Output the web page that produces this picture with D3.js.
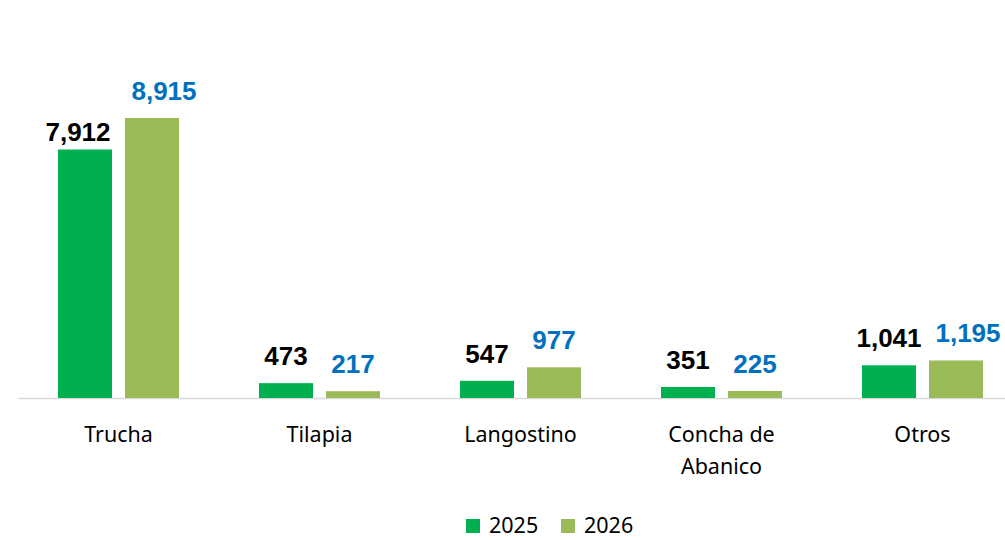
<!DOCTYPE html>
<html>
<head>
<meta charset="utf-8">
<script src="https://cdn.jsdelivr.net/npm/d3@7"></script>
<style>
  body { margin: 0; background: #fff; }
</style>
</head>
<body>
<script>
var categories = ["Trucha", "Tilapia", "Langostino", "Concha de Abanico", "Otros"];
var years = ["2025", "2026"];
var values2025 = [7912, 473, 547, 351, 1041];
var values2026 = [8915, 217, 977, 225, 1195];

var width = 1005,
    height = 540,
    baseline = 398;

var colors = { "2025": "#00b050", "2026": "#9bbb59" };
var labelColors = { "2025": "#000000", "2026": "#0070c0" };

var data = categories.map(function(c, i) {
  return { cat: c, vals: [
    { year: "2025", v: values2025[i] },
    { year: "2026", v: values2026[i] }
  ]};
});

var svg = d3.select("body").append("svg")
    .attr("width", width)
    .attr("height", height);

var x = d3.scaleBand()
    .domain(categories)
    .range([18, 1023])
    .paddingInner(0)
    .paddingOuter(0);

var x1 = d3.scaleBand()
    .domain(years)
    .range([x.bandwidth() / 2 - 60.5, x.bandwidth() / 2 + 60.5])
    .paddingInner(13 / 67);

var y = d3.scaleLinear()
    .domain([0, 8915])
    .range([baseline, 118]);

// axis line
svg.append("line")
    .attr("x1", 18).attr("x2", width)
    .attr("y1", baseline + 0.5).attr("y2", baseline + 0.5)
    .attr("stroke", "#d9d9d9")
    .attr("stroke-width", 1.5);

var g = svg.selectAll(".grp")
  .data(data)
  .enter().append("g")
    .attr("class", "grp")
    .attr("transform", function(d) { return "translate(" + x(d.cat) + ",0)"; });

g.selectAll("rect")
  .data(function(d) { return d.vals; })
  .enter().append("rect")
    .attr("x", function(d) { return x1(d.year); })
    .attr("width", x1.bandwidth())
    .attr("y", function(d) { return y(d.v); })
    .attr("height", function(d) { return baseline - y(d.v); })
    .attr("fill", function(d) { return colors[d.year]; });

// value labels
g.selectAll("text.val")
  .data(function(d, i) { return d.vals.map(function(v) { return { year: v.year, v: v.v, i: i }; }); })
  .enter().append("text")
    .attr("class", "val")
    .attr("x", function(d) {
      var cx = x1(d.year) + x1.bandwidth() / 2;
      // wide labels were nudged apart in the original
      if (d.year === "2026" && d.v >= 1000) cx += 12;
      if (d.year === "2025" && d.i === 0) cx -= 7;
      return cx;
    })
    .attr("y", function(d) {
      // the tall first label sits closer to its bar in the original
      var off = (d.i === 0 && d.year === "2025") ? 9 : 18;
      return y(d.v) - off;
    })
    .attr("text-anchor", "middle")
    .style("font-family", "'Liberation Sans', Arial, sans-serif")
    .style("font-weight", "bold")
    .style("font-size", "26px")
    .attr("fill", function(d) { return labelColors[d.year]; })
    .text(function(d) { return d3.format(",")(d.v); });

// category labels
var catText = g.append("text")
    .attr("x", x.bandwidth() / 2)
    .attr("y", 442)
    .attr("text-anchor", "middle")
    .style("font-family", "'Noto Sans', 'Open Sans', sans-serif")
    .style("font-size", "21.5px")
    .attr("fill", "#000");

catText.each(function(d) {
  var words = d.cat === "Concha de Abanico" ? ["Concha de", "Abanico"] : [d.cat];
  var t = d3.select(this);
  words.forEach(function(w, k) {
    t.append("tspan")
      .attr("x", x.bandwidth() / 2)
      .attr("dy", k === 0 ? 0 : 32)
      .text(w);
  });
});

// legend
var legend = svg.append("g");
var lx = [466, 561];
years.forEach(function(yr, k) {
  legend.append("rect")
    .attr("x", lx[k]).attr("y", 519)
    .attr("width", 14).attr("height", 14)
    .attr("fill", colors[yr]);
  legend.append("text")
    .attr("x", lx[k] + 23).attr("y", 533)
    .style("font-family", "'Noto Sans', 'Open Sans', sans-serif")
    .style("font-size", "21.5px")
    .attr("fill", "#000")
    .text(yr);
});
</script>
</body>
</html>
